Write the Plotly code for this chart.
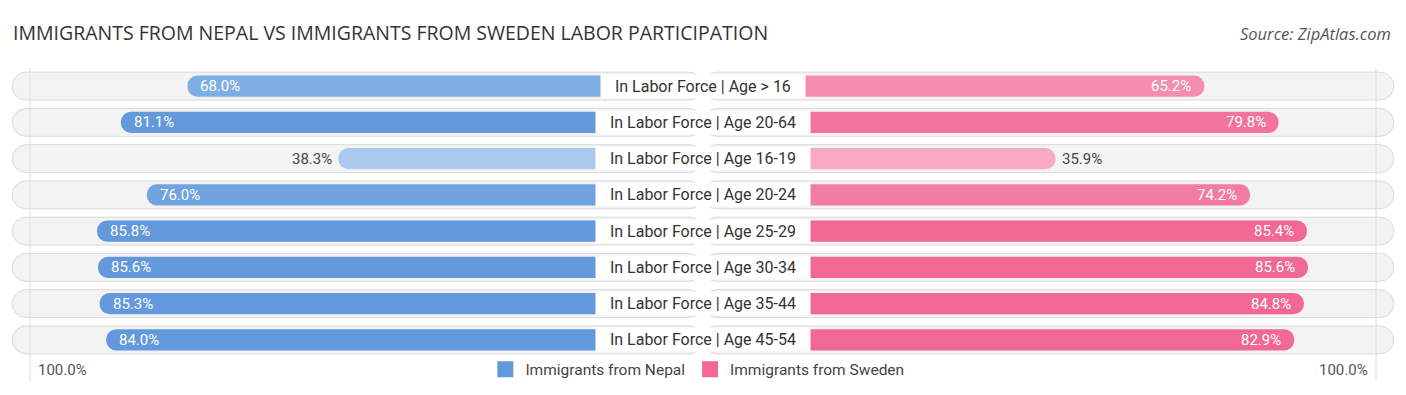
import plotly.graph_objects as go

# ---- data ----
categories = [
    "In Labor Force | Age > 16",
    "In Labor Force | Age 20-64",
    "In Labor Force | Age 16-19",
    "In Labor Force | Age 20-24",
    "In Labor Force | Age 25-29",
    "In Labor Force | Age 30-34",
    "In Labor Force | Age 35-44",
    "In Labor Force | Age 45-54",
]
nepal = [68.0, 81.1, 38.3, 76.0, 85.8, 85.6, 85.3, 84.0]
sweden = [65.2, 79.8, 35.9, 74.2, 85.4, 85.6, 84.8, 82.9]
series_names = ["Immigrants from Nepal", "Immigrants from Sweden"]
nepal_colors = ["#7eaee3", "#6499db", "#abc9ee", "#70a3df", "#6398dc", "#6398dc", "#6398dc", "#6398dc"]
sweden_colors = ["#f58db0", "#f2739d", "#f8aac4", "#f37ca3", "#f06893", "#f06893", "#f06893", "#f06893"]
legend_colors = ["#6398dc", "#f06893"]
title_text = "IMMIGRANTS FROM NEPAL VS IMMIGRANTS FROM SWEDEN LABOR PARTICIPATION"
source_text = "Source: ZipAtlas.com"

# ---- styling constants ----
OFFSET = 33.5        # visual stub under the centre label (in % units)
BG_EXTENT = 102.5    # pill background reach (in % units)
GRID_AT = 99.0       # guide line position (in % units)
R = 138.4            # half axis range
FONT = "Roboto"
W, H = 1406, 395
MT, MB = 68, 37

rows = list(range(len(categories)))
fig = go.Figure()

# row backgrounds (pills)
for sign in (-1, 1):
    fig.add_trace(go.Bar(
        y=rows, x=[sign * (BG_EXTENT + OFFSET)] * len(rows), base=0,
        orientation="h", width=0.77,
        marker=dict(color="#f3f3f3", line=dict(color="#dadada", width=1), cornerradius=14),
        showlegend=False, hoverinfo="skip",
    ))

# data bars
fig.add_trace(go.Bar(
    y=rows, x=[-(v + OFFSET) for v in nepal], base=0, orientation="h", width=0.58,
    marker=dict(color=nepal_colors, cornerradius=10, line=dict(width=0)),
    name=series_names[0], showlegend=False,
))
fig.add_trace(go.Bar(
    y=rows, x=[(v + OFFSET) for v in sweden], base=0, orientation="h", width=0.58,
    marker=dict(color=sweden_colors, cornerradius=10, line=dict(width=0)),
    name=series_names[1], showlegend=False,
))
# legend entries
for nm, col in zip(series_names, legend_colors):
    fig.add_trace(go.Scatter(y=[None], x=[None], mode="markers", name=nm,
                             marker=dict(color=col, symbol="square", size=16),
                             showlegend=True))

nb = "&nbsp;" * 3
annotations = []
for i, (cat, a, b) in enumerate(zip(categories, nepal, sweden)):
    annotations.append(dict(
        x=0, y=i, text=nb + cat + nb, showarrow=False, xanchor="center", yanchor="middle",
        font=dict(family=FONT, size=16, color="#333333"),
        bgcolor="white", borderpad=2,
    ))
    if a > 50:
        annotations.append(dict(x=-(a + OFFSET), y=i, text=f"{a:.1f}%", showarrow=False,
                                xanchor="left", xshift=11, yanchor="middle",
                                font=dict(family=FONT, size=15, color="white")))
    else:
        annotations.append(dict(x=-(a + OFFSET), y=i, text=f"{a:.1f}%", showarrow=False,
                                xanchor="right", xshift=-4, yanchor="middle",
                                font=dict(family=FONT, size=15, color="#444444")))
    if b > 50:
        annotations.append(dict(x=(b + OFFSET), y=i, text=f"{b:.1f}%", showarrow=False,
                                xanchor="right", xshift=-11, yanchor="middle",
                                font=dict(family=FONT, size=15, color="white")))
    else:
        annotations.append(dict(x=(b + OFFSET), y=i, text=f"{b:.1f}%", showarrow=False,
                                xanchor="left", xshift=4, yanchor="middle",
                                font=dict(family=FONT, size=15, color="#444444")))

# axis end labels
for s, anchor in ((-1, "left"), (1, "right")):
    annotations.append(dict(x=s * (GRID_AT + OFFSET), y=-0.04, yref="paper", text="100.0%",
                            showarrow=False, xanchor=anchor, xshift=-s * 6, yanchor="middle",
                            font=dict(family=FONT, size=15, color="#555555")))

# source
annotations.append(dict(x=1393 / W, y=(H - MB - 33) / (H - MT - MB), xref="paper", yref="paper",
                        text="<i>" + source_text + "</i>", showarrow=False,
                        xanchor="right", yanchor="middle",
                        font=dict(family="Open Sans", size=16.5, color="#555555")))

fig.update_layout(
    width=W, height=H,
    margin=dict(l=0, r=0, t=MT, b=MB),
    paper_bgcolor="white", plot_bgcolor="white",
    barmode="overlay",
    xaxis=dict(range=[-R, R], visible=False, fixedrange=True),
    yaxis=dict(range=[len(rows) - 0.5, -0.5], visible=False, fixedrange=True),
    showlegend=True,
    legend=dict(orientation="h", x=0.496, xanchor="center", y=-0.04, yanchor="middle",
                font=dict(family=FONT, size=15.5, color="#444444"), itemwidth=30,
                bgcolor="rgba(0,0,0,0)", traceorder="normal"),
    title=dict(text=title_text, x=13 / W, xanchor="left", y=1 - 33 / H, yanchor="middle",
               font=dict(family="Open Sans", size=19.5, color="#333333")),
    annotations=annotations,
    shapes=[
        dict(type="line", x0=s * (GRID_AT + OFFSET), x1=s * (GRID_AT + OFFSET), y0=-0.08, y1=1.0,
             yref="paper", line=dict(color="#dddddd", width=1), layer="above")
        for s in (-1, 1)
    ],
)

fig.write_html("out.html", config={"displayModeBar": False},
               post_script="document.body.style.margin='0';")
